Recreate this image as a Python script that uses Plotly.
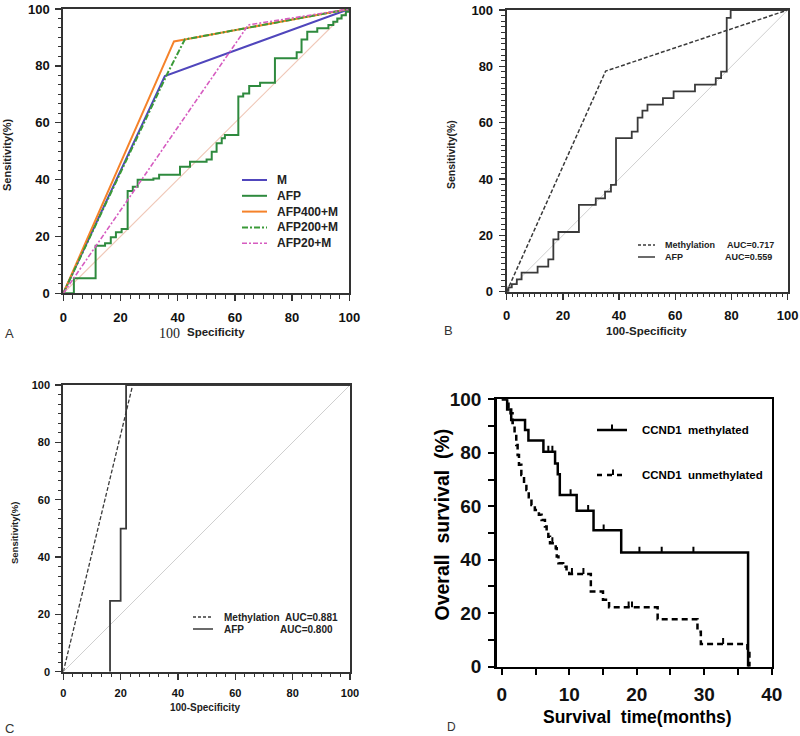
import plotly.graph_objects as go

W, H = 800, 736


def fx(p):
    return p / W


def fy(p):
    return 1 - p / H


# ---------------- Panel A data ----------------
a_diag_x = [0, 100]
a_diag_y = [0, 100]
a_m_x = [0, 35.5, 100]
a_m_y = [0, 76.4, 100]
a_afp_x = [0, 3.7, 11.3, 14.6, 16.6, 18.4, 20.4, 22.5, 24.3, 26.0, 31.5, 33.5, 40.8, 44.3,
           50.1, 51.9, 53.6, 55.4, 56.5, 61.2, 62.9, 65.0, 68.8, 74.0, 81.6, 83.3, 85.3,
           88.8, 92.7, 94.4, 95.8, 97.3, 98.8, 100]
a_afp_y = [0, 5.3, 16.7, 17.6, 19.7, 21.5, 22.6, 36.0, 37.5, 39.9, 40.4, 41.7, 44.5, 46.3,
           47.1, 49.8, 52.8, 54.5, 55.7, 69.2, 70.3, 72.9, 74.1, 82.7, 84.8, 89.3, 92.0,
           93.2, 94.4, 95.5, 96.7, 97.8, 99.0, 100]
a_afp400_x = [0, 38.7, 42.5, 100]
a_afp400_y = [0, 88.6, 89.3, 100]
a_afp200_x = [0, 36.5, 42.5, 100]
a_afp200_y = [0, 77.5, 89.3, 100]
a_afp20_x = [0, 64.7, 100]
a_afp20_y = [0, 94.4, 100]
a_names = ["M", "AFP", "AFP400+M", "AFP200+M", "AFP20+M"]

# ---------------- Panel B data ----------------
b_diag_x = [0, 100]
b_diag_y = [0, 100]
b_meth_x = [0, 35.2, 100]
b_meth_y = [0, 78.3, 100]
b_afp_x = [0, 0.6, 1.8, 3.6, 5.3, 11.0, 14.8, 16.6, 18.4, 25.7, 31.7, 35.0, 37.1, 38.9,
           44.5, 46.6, 48.3, 50.1, 55.6, 59.4, 67.0, 74.4, 76.3, 78.3, 79.7, 100]
b_afp_y = [0, 1.5, 2.7, 4.4, 6.8, 8.9, 11.5, 18.6, 21.2, 30.8, 33.1, 35.5, 37.9, 54.5,
           56.8, 61.8, 64.3, 66.4, 68.7, 71.1, 73.5, 75.8, 78.1, 97.2, 100, 100]
b_auc = ["AUC=0.717", "AUC=0.559"]

# ---------------- Panel C data ----------------
c_diag_x = [0, 100]
c_diag_y = [0, 100]
c_meth_x = [0, 24.2, 100]
c_meth_y = [0, 100, 100]
c_afp_x = [16.3, 16.3, 20.0, 21.9, 100]
c_afp_y = [0, 24.7, 49.9, 100, 100]
c_auc = ["AUC=0.881", "AUC=0.800"]

# ---------------- Panel D data (Kaplan-Meier) ----------------
d_meth_t = [0, 0.8, 1.4, 3.45, 3.95, 6.17, 7.9, 8.3, 8.6, 11.1, 13.6, 17.7, 36.5]
d_meth_s = [100, 96.2, 92.3, 88.5, 84.6, 80.4, 76.0, 72.0, 64.2, 58.3, 51.0, 42.7, 0]
d_meth_cens_t = [6.9, 7.5, 10.2, 12.8, 15.1, 20.4, 23.7, 28.4]
d_meth_cens_s = [80.4, 80.4, 64.2, 58.3, 51.0, 42.7, 42.7, 42.7]
d_unm_t = [0, 1.0, 1.3, 1.6, 1.9, 2.15, 2.35, 2.55, 2.9, 3.3, 3.65, 4.0, 4.4, 4.9, 5.5,
           5.9, 6.4, 6.65, 6.9, 7.15, 8.0, 8.15, 8.4, 9.1, 9.6, 10.0, 13.2, 15.0, 15.9,
           23.1, 29.0, 29.5, 36.4, 36.7]
d_unm_s = [100, 97.0, 94.8, 91.1, 87.3, 82.9, 79.2, 75.5, 71.7, 68.6, 66.1, 63.4, 60.5,
           58.6, 56.8, 54.9, 52.4, 50.5, 48.6, 46.2, 44.3, 41.2, 38.7, 37.4, 35.5, 34.7,
           28.1, 25.0, 22.2, 17.7, 13.1, 8.5, 6.2, 0]
d_unm_cens_t = [7.5, 10.4, 12.1, 18.8, 19.3, 32.8]
d_unm_cens_s = [46.2, 34.7, 34.7, 22.2, 22.2, 8.5]
d_names = ["CCND1\u00a0\u00a0methylated", "CCND1\u00a0\u00a0unmethylated"]

# ---------------- styles ----------------
SANS = "Liberation Sans, Arial, sans-serif"
SERIF = "Liberation Serif, Times New Roman, serif"
AX = "#333333"
C_M = "#5046bc"
C_AFP = "#2e8a3e"
C_400 = "#f5822a"
C_200 = "#3a9a38"
C_20 = "#d65cc0"
C_DIAG_A = "#f0c8b8"
C_DIAG = "#cfcfcf"
C_B = "#3a3a3a"
CENSOR_TICK = 2.2

fig = go.Figure()


def add(x, y, ax, color, width=2, dash=None, shape="linear"):
    fig.add_trace(go.Scatter(x=x, y=y, xaxis=ax[0], yaxis=ax[1], mode="lines",
                             line=dict(color=color, width=width, dash=dash, shape=shape),
                             showlegend=False, hoverinfo="skip"))


# Panel A
A = ("x", "y")
add(a_diag_x, a_diag_y, A, C_DIAG_A, 1.2)
add(a_afp_x, a_afp_y, A, C_AFP, 2, shape="hv")
add(a_m_x, a_m_y, A, C_M, 2)
add(a_afp400_x, a_afp400_y, A, C_400, 2)
add(a_afp200_x, a_afp200_y, A, C_200, 2, dash="6px,2px,2px,2px")
add(a_afp20_x, a_afp20_y, A, C_20, 1.6, dash="5px,2px,2px,2px")

# Panel B
B = ("x2", "y2")
add(b_diag_x, b_diag_y, B, C_DIAG, 1)
add(b_afp_x, b_afp_y, B, C_B, 1.8, shape="hv")
add(b_meth_x, b_meth_y, B, C_B, 1.5, dash="4px,2px")

# Panel C
Cx = ("x3", "y3")
add(c_diag_x, c_diag_y, Cx, C_DIAG, 1)
add(c_afp_x, c_afp_y, Cx, C_B, 1.8, shape="hv")
add(c_meth_x, c_meth_y, Cx, C_B, 1.3, dash="4px,2px")

# Panel D
D = ("x4", "y4")
add(d_meth_t, d_meth_s, D, "black", 2.5, shape="hv")
add(d_unm_t, d_unm_s, D, "black", 2.5, dash="6px,4px", shape="hv")
for ct, cs in ((d_meth_cens_t, d_meth_cens_s), (d_unm_cens_t, d_unm_cens_s)):
    fig.add_trace(go.Scatter(
        x=ct, y=cs, xaxis="x4", yaxis="y4", mode="markers",
        marker=dict(size=2, color="rgba(0,0,0,0)"),
        error_y=dict(type="data", symmetric=False, array=[CENSOR_TICK] * len(ct),
                     arrayminus=[0] * len(ct), thickness=2, width=0, color="black"),
        showlegend=False, hoverinfo="skip"))


def xax(dom, rng, anchor, tickvals, minor_dtick, fsize, lw=2, tl=6, mtl=3.5, standoff=4,
        color=AX, tw=1.5, mtw=1):
    return dict(domain=dom, range=rng, anchor=anchor, tickvals=tickvals,
                ticks="outside", ticklen=tl, tickwidth=tw, tickcolor=color,
                showline=True, linewidth=lw, linecolor=color, mirror=True,
                showgrid=False, zeroline=False, fixedrange=True, automargin=False,
                tickfont=dict(family=SANS, size=fsize, color="#111", weight="bold"),
                ticklabelstandoff=standoff,
                minor=dict(dtick=minor_dtick, tick0=0, ticks="outside", ticklen=mtl,
                           tickwidth=mtw, tickcolor=color, showgrid=False))


ticks20 = [0, 20, 40, 60, 80, 100]
fig.update_layout(
    width=W, height=H, margin=dict(l=0, r=0, t=0, b=0, autoexpand=False),
    paper_bgcolor="white", plot_bgcolor="white", showlegend=False,
    xaxis=xax([fx(63.3), fx(349.3)], [0, 100], "y", ticks20, 20 / 6, 13, standoff=5),
    yaxis=xax([fy(293.3), fy(9)], [0, 100], "x", ticks20, 20 / 6, 13, standoff=3),
    xaxis2=xax([fx(506.7), fx(787.7)], [0, 100], "y2", ticks20, 2, 13, standoff=5),
    yaxis2=xax([fy(291.7), fy(10)], [0, 100], "x2", ticks20, 2, 13, standoff=3),
    xaxis3=xax([fx(63.3), fx(350)], [0, 100], "y3", ticks20, 20 / 6, 11, standoff=4),
    yaxis3=xax([fy(671.7), fy(385)], [0, 100], "x3", ticks20, 20 / 6, 11, standoff=3),
    xaxis4=xax([fx(496.7), fx(771.7)], [-0.75, 40], "y4", [0, 10, 20, 30, 40], 5, 19,
               lw=2.5, tl=6, mtl=6, standoff=3, color="black", tw=2, mtw=2),
    yaxis4=xax([fy(666.7), fy(399.3)], [0, 100], "x4", ticks20, 10, 19,
               lw=2.5, tl=6, mtl=6, standoff=3, color="black", tw=2, mtw=2),
)

ann = []


def text(t, x, y, size, family=SANS, bold=True, xanchor="center", angle=0, color="#222"):
    ann.append(dict(text=t, x=fx(x), y=fy(y), xref="paper", yref="paper", showarrow=False,
                    xanchor=xanchor, yanchor="middle", textangle=angle,
                    font=dict(family=family, size=size, color=color,
                              weight="bold" if bold else "normal")))


shapes = []


def seg(x0, x1, y, color, width=2, dash="solid", y1=None):
    shapes.append(dict(type="line", xref="paper", yref="paper", x0=fx(x0), x1=fx(x1),
                       y0=fy(y), y1=fy(y if y1 is None else y1),
                       line=dict(color=color, width=width, dash=dash)))


# Panel A labels
text("Sensitivity(%)", 7, 155, 11, angle=-90)
text("100", 182, 333, 14, family=SERIF, bold=False, xanchor="right")
text("Specificity", 185, 332, 11.5, xanchor="left")
text("A", 3, 333, 13, bold=False, xanchor="left", color="#333")
a_styles = [(C_M, "solid", 2), (C_AFP, "solid", 2), (C_400, "solid", 2),
            (C_200, "6px,2px,2px,2px", 2), (C_20, "5px,2px,2px,2px", 1.6)]
for i, (nm, (col, dsh, lw)) in enumerate(zip(a_names, a_styles)):
    yy = 180 + i * 15.8
    seg(242, 267, yy, col, lw, dsh)
    text(nm, 275, yy, 12, xanchor="left")

# Panel B labels
text("Sensitivity(%)", 451, 155, 10.5, angle=-90)
text("100-Specificity", 646, 331, 11.5)
text("B", 442, 330, 13, bold=False, xanchor="left", color="#333")
seg(638, 655, 245, C_B, 1.5, "3px,2px")
seg(638, 655, 257, C_B, 1.5)
text("Methylation", 663, 245, 9, xanchor="left")
text("AFP", 663, 257, 9, xanchor="left")
text(b_auc[0], 725, 245, 9, xanchor="left")
text(b_auc[1], 723, 257, 9, xanchor="left")

# Panel C labels
text("Sensitivity(%)", 14, 533, 9.5, angle=-90)
text("100-Specificity", 205, 707, 10)
text("C", 3, 728, 13, bold=False, xanchor="left", color="#333")
seg(193, 213, 617, C_B, 1.3, "3px,2px")
seg(193, 213, 629, C_B, 1.5)
text("Methylation", 222, 617, 10, xanchor="left")
text("AFP", 222, 629, 10, xanchor="left")
text(c_auc[0], 283, 617, 10, xanchor="left")
text(c_auc[1], 278, 629, 10, xanchor="left")

# Panel D labels
text("Overall\u00a0\u00a0survival\u00a0\u00a0(%)", 441.5, 525, 19.5, angle=-90, color="black")
text("Survival\u00a0\u00a0time(months)", 637, 717, 17.5, color="black")
text("D", 445, 727, 12, bold=False, xanchor="left", color="#333")
seg(597, 627, 430, "black", 2.5)
seg(612, 612, 430, "black", 2, y1=424.5)
seg(597, 627, 475, "black", 2.5, "5px,5px")
seg(613, 613, 475, "black", 2, y1=469.5)
text(d_names[0], 640, 430, 11.5, xanchor="left", color="black")
text(d_names[1], 640, 475, 11.5, xanchor="left", color="black")

fig.update_layout(annotations=ann, shapes=shapes)
fig.write_html(
    "out.html",
    config={"displayModeBar": False, "staticPlot": True},
    post_script="document.body.style.margin='0';document.body.style.overflow='hidden';",
)
